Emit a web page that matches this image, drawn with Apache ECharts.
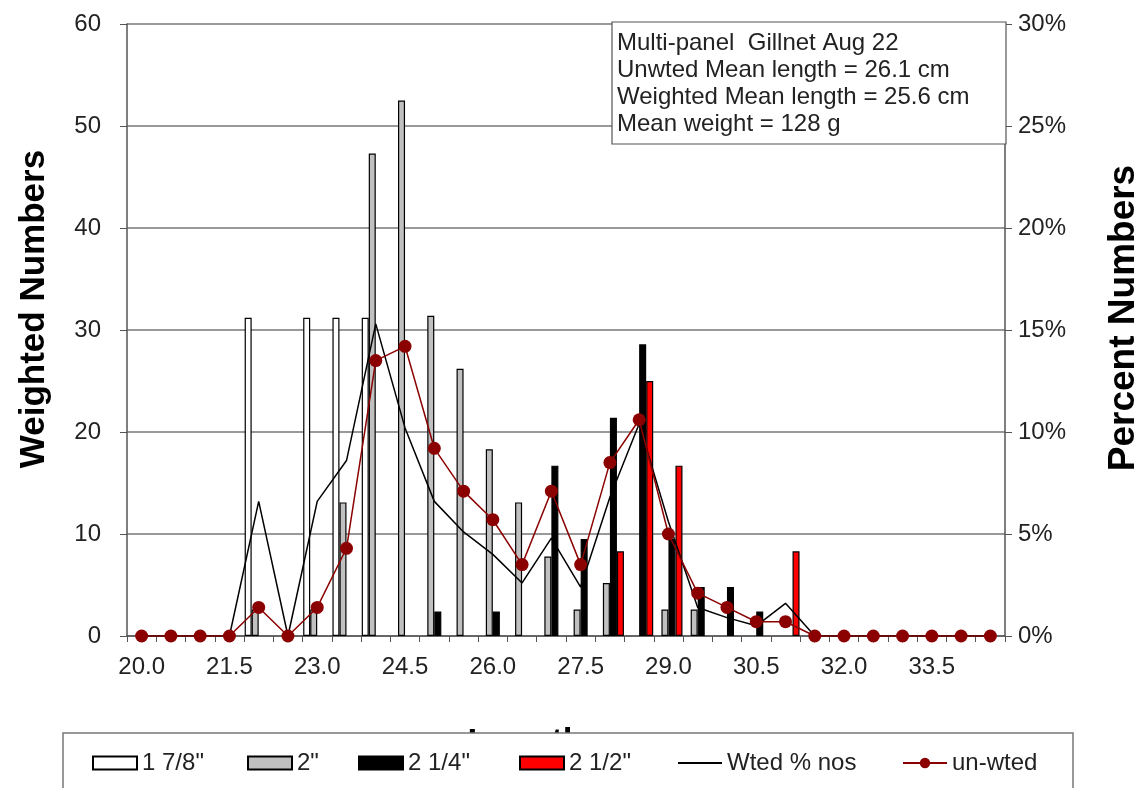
<!DOCTYPE html>
<html><head><meta charset="utf-8">
<script src="https://cdn.jsdelivr.net/npm/echarts@6/dist/echarts.min.js"></script>
<style>html,body{margin:0;padding:0;background:#fff}#c{width:1146px;height:788px}</style>
</head><body><div id="c"></div>
<script>
const categories = ['20.0','20.5','21.0','21.5','22.0','22.5','23.0','23.5','24.0','24.5','25.0','25.5','26.0','26.5','27.0','27.5','28.0','28.5','29.0','29.5','30.0','30.5','31.0','31.5','32.0','32.5','33.0','33.5','34.0','34.5'];
const mesh178 = [null,null,null,null,31.2,null,31.2,31.2,31.2,null,null,null,null,null,null,null,null,null,null,null,null,null,null,null,null,null,null,null,null,null];
const mesh2   = [null,null,null,null,2.6,null,2.6,13.1,47.3,52.5,31.4,26.2,18.3,13.1,7.8,2.6,5.2,null,2.6,2.6,null,null,null,null,null,null,null,null,null,null];
const mesh214 = [null,null,null,null,null,null,null,null,null,null,2.4,null,2.4,null,16.7,9.5,21.4,28.6,9.5,4.8,4.8,2.4,null,null,null,null,null,null,null,null];
const mesh212 = [null,null,null,null,null,null,null,null,null,null,null,null,null,null,null,null,8.3,25.0,16.7,null,null,null,8.3,null,null,null,null,null,null,null];
const wtedPct   = [0,0,0,0,6.6,0,6.6,8.6,15.3,10.2,6.6,5.1,4.0,2.6,4.8,2.4,6.8,10.4,5.6,1.4,0.9,0.5,1.6,0,0,0,0,0,0,0];
const unwtedPct = [0,0,0,0,1.4,0,1.4,4.3,13.5,14.2,9.2,7.1,5.7,3.5,7.1,3.5,8.5,10.6,5.0,2.1,1.4,0.7,0.7,0,0,0,0,0,0,0];
const infoLines = ['Multi-panel  Gillnet Aug 22','Unwted Mean length = 26.1 cm','Weighted Mean length = 25.6 cm','Mean weight = 128 g'];

const FONT = 'Liberation Sans, Arial, sans-serif';
const chart = echarts.init(document.getElementById('c'), null, {renderer:'canvas'});
const barBase = {type:'bar', barGap:'0%', barCategoryGap:'4%', yAxisIndex:0};
function lg(name, left, extra){
  return Object.assign({data:[name], left:left, top:751, orient:'horizontal', padding:0, itemWidth:44, itemHeight:13, itemGap:0,
    textStyle:{fontFamily:FONT, fontSize:24, color:'#222'}, selectedMode:false}, extra||{});
}
chart.setOption({
  animation:false,
  backgroundColor:'#fff',
  grid:{left:127, right:141, top:24, bottom:152, containLabel:false, outerBoundsMode:'none'},
  xAxis:{type:'category', data:categories, boundaryGap:true,
    name:'Length cm', nameLocation:'middle', nameGap:90,
    nameTextStyle:{fontFamily:FONT, fontSize:35, fontWeight:'bold', color:'#000', padding:[0,20,0,0]},
    axisLine:{lineStyle:{color:'#555', width:1.5}},
    axisTick:{show:true, interval:0, length:6, lineStyle:{color:'#555'}},
    axisLabel:{interval:2, fontFamily:FONT, fontSize:24, color:'#222', margin:19},
    splitLine:{show:false}},
  yAxis:[
    {type:'value', min:0, max:60, interval:10, position:'left',
     name:'Weighted Numbers', nameLocation:'middle', nameGap:75, nameRotate:90,
     nameTextStyle:{fontFamily:FONT, fontSize:35, fontWeight:'bold', color:'#000', padding:[0,0,0,42]},
     axisLine:{show:true, lineStyle:{color:'#555', width:1.5}},
     axisTick:{show:true, length:7, lineStyle:{color:'#555'}},
     axisLabel:{fontFamily:FONT, fontSize:24, color:'#222', margin:26},
     splitLine:{show:true, lineStyle:{color:'#777', width:1.5}}},
    {type:'value', min:0, max:30, interval:5, position:'right',
     name:'Percent Numbers', nameLocation:'middle', nameGap:100, nameRotate:90,
     nameTextStyle:{fontFamily:FONT, fontSize:37, fontWeight:'bold', color:'#000', padding:[0,0,0,24]},
     axisLine:{show:true, lineStyle:{color:'#555', width:1.5}},
     axisTick:{show:true, length:7, lineStyle:{color:'#555'}},
     axisLabel:{fontFamily:FONT, fontSize:24, color:'#222', margin:13, formatter:'{value}%'},
     splitLine:{show:false}}
  ],
  legend:[
    lg('1 7/8"', 92, {icon:'rect'}),
    lg('2"', 247, {icon:'rect'}),
    lg('2 1/4"', 358, {icon:'rect'}),
    lg('2 1/2"', 519, {icon:'rect'}),
    lg('Wted % nos', 677, {itemStyle:{opacity:0}}),
    lg('un-wted', 902)
  ],
  graphic:[
    {type:'rect', z:3, shape:{x:63, y:733, width:1010, height:70}, style:{fill:'#fff', stroke:'#777', lineWidth:1.5}},
    {type:'rect', z:3, shape:{x:612, y:22, width:394, height:122}, style:{fill:'#fff', stroke:'#555', lineWidth:1.2}},
    {type:'text', z:4, x:617, y:30, style:{text:infoLines.join('\n'), fontFamily:FONT, fontSize:24, lineHeight:27, fill:'#222'}}
  ],
  series:[
    Object.assign({name:'1 7/8"', data:mesh178, itemStyle:{color:'#fff', borderColor:'#000', borderWidth:1.2}}, barBase),
    Object.assign({name:'2"', data:mesh2, itemStyle:{color:'#c0c0c0', borderColor:'#000', borderWidth:1.2}}, barBase),
    Object.assign({name:'2 1/4"', data:mesh214, itemStyle:{color:'#000', borderColor:'#000', borderWidth:1.2}}, barBase),
    Object.assign({name:'2 1/2"', data:mesh212, itemStyle:{color:'#ff0000', borderColor:'#000', borderWidth:1.2}}, barBase),
    {name:'Wted % nos', type:'line', yAxisIndex:1, data:wtedPct, symbol:'none', z:5,
     lineStyle:{color:'#000', width:1.5}, itemStyle:{color:'#000'}},
    {name:'un-wted', type:'line', yAxisIndex:1, data:unwtedPct, symbol:'circle', symbolSize:13, z:6,
     lineStyle:{color:'#8b0000', width:1.5}, itemStyle:{color:'#8b0000'}}
  ]
});
</script></body></html>
